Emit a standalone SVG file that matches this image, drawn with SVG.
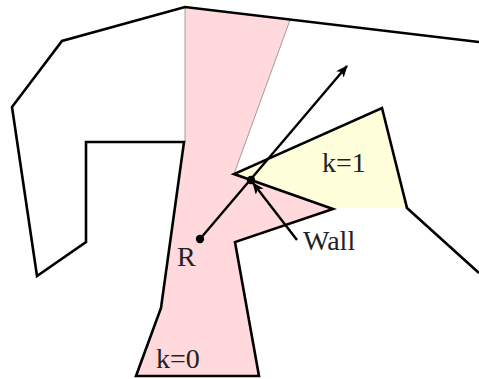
<svg xmlns="http://www.w3.org/2000/svg" width="479" height="379" viewBox="0 0 479 379">
<style>
.wall{fill:none;stroke:#000;stroke-width:2.6;stroke-linejoin:miter}
.lbl{font-family:"Liberation Serif","DejaVu Serif",serif;font-size:28px;fill:#222}
.ray{fill:none;stroke:#000;stroke-width:2.4}
.edge{fill:none;stroke:#888;stroke-width:0.8}
</style>
<defs>
<marker id="ah" viewBox="0 0 12 10" refX="11" refY="5" markerWidth="12" markerHeight="10" markerUnits="userSpaceOnUse" orient="auto">
<path d="M0,0 L12,5 L0,10 L3,5 Z" fill="#000"/>
</marker>
</defs>
<rect width="479" height="379" fill="#fff"/>
<g id="region-k1">
<polygon points="234,174 382,108 407,208 333,208" fill="#ffffdc"/>
</g>
<g id="region-k0">
<polygon points="185,8 290,20 234,174 333,209 235,242 259,376 136,376 161,308 185,142" fill="#ffd9dc"/>
<polyline class="edge" points="185,8 185,142"/>
<polyline class="edge" points="290,20 234,174"/>
</g>
<g id="environment">
<polyline class="wall" points="479,42 185,7 62,41 12,107 37,276 86,242 86,142 184,142 161,308 136,376 259,376 235,242 333,209 234,174 382,108 407,208 479,273"/>
</g>
<g id="connectors">
<line class="ray" x1="200" y1="239" x2="347" y2="66" marker-end="url(#ah)"/>
<line class="ray" x1="297" y1="240" x2="253" y2="183" marker-end="url(#ah)"/>
</g>
<g id="node-R">
<circle cx="200" cy="239" r="4.2" fill="#000"/>
<text class="lbl" x="177" y="266">R</text>
</g>
<g id="node-hit">
<circle cx="251" cy="180" r="4.2" fill="#000"/>
</g>
<g id="label-wall"><text class="lbl" x="303" y="250">Wall</text></g>
<g id="label-k1"><text class="lbl" x="322" y="172">k=1</text></g>
<g id="label-k0"><text class="lbl" x="156" y="368">k=0</text></g>
</svg>
